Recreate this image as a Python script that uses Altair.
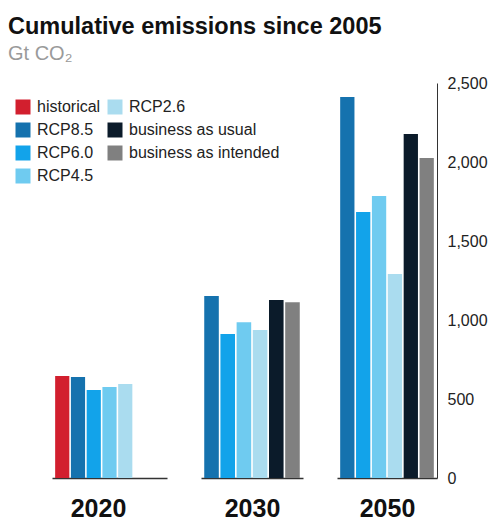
import altair as alt
import pandas as pd

# Cumulative CO2 emissions since 2005 (Gt CO2), by scenario and horizon year
series = ["historical", "RCP8.5", "RCP6.0", "RCP4.5", "RCP2.6",
          "business as usual", "business as intended"]
colors = ["#d21f2e", "#1572ae", "#12a3ea", "#6fcbf0", "#aadcef",
          "#0b1b2a", "#808080"]

series_2020 = ["historical", "RCP8.5", "RCP6.0", "RCP4.5", "RCP2.6"]
values_2020 = [645, 640, 557, 576, 595]

series_2030 = ["RCP8.5", "RCP6.0", "RCP4.5", "RCP2.6",
               "business as usual", "business as intended"]
values_2030 = [1152, 911, 985, 937, 1127, 1112]

series_2050 = ["RCP8.5", "RCP6.0", "RCP4.5", "RCP2.6",
               "business as usual", "business as intended"]
values_2050 = [2411, 1684, 1785, 1291, 2177, 2025]

y_ticks = [0, 500, 1000, 1500, 2000, 2500]

FONT = "Liberation Sans"

rows = []
for yr, ss, vv in [("2020", series_2020, values_2020),
                   ("2030", series_2030, values_2030),
                   ("2050", series_2050, values_2050)]:
    for s, v in zip(ss, vv):
        rows.append({"year": yr, "series": s, "value": v})
df = pd.DataFrame(rows)

color_enc = alt.Color(
    "series:N",
    scale=alt.Scale(domain=series, range=colors),
    legend=alt.Legend(
        title=None, orient="none", legendX=-37, legendY=16,
        direction="vertical", columns=2, symbolType="square",
        symbolSize=225, symbolStrokeWidth=0, labelFontSize=16,
        labelFont=FONT, labelColor="#222", labelOffset=6,
        rowPadding=7, columnPadding=6, padding=0,
    ),
)


def panel(year, domain, width, title_x=None, show_y=False):
    axis_kw = dict(labels=False, ticks=False, domain=True, domainColor="#333",
                   domainWidth=1.5, title=year, titleFontSize=25,
                   titleFontWeight="bold", titleFont=FONT, titleColor="#111",
                   titlePadding=18)
    if title_x is not None:
        axis_kw["titleX"] = title_x
    if show_y:
        y_axis = alt.Axis(orient="right", values=y_ticks, format=",d",
                          ticks=False, grid=False, domain=True,
                          domainColor="#333", labelFontSize=16,
                          labelFont=FONT, labelColor="#222",
                          labelPadding=10, title=None)
    else:
        y_axis = None
    return alt.Chart(df).transform_filter(
        alt.datum.year == year
    ).mark_bar().encode(
        x=alt.X("series:N",
                scale=alt.Scale(domain=domain, paddingInner=0.1,
                                paddingOuter=0.2),
                axis=alt.Axis(**axis_kw)),
        y=alt.Y("value:Q", scale=alt.Scale(domain=[0, 2500], nice=False),
                axis=y_axis),
        color=color_enc,
    ).properties(width=width, height=395)


chart = alt.hconcat(
    panel("2020", series, 115, title_x=46),
    panel("2030", series[1:], 102),
    panel("2050", series[1:], 100, show_y=True),
    spacing=34,
).resolve_scale(x="independent").properties(
    title=alt.TitleParams(
        text="Cumulative emissions since 2005",
        subtitle="Gt CO₂",
        anchor="start", frame="group", dx=-44,
        font=FONT, fontSize=23.5, fontWeight="bold", color="#111",
        subtitleFont=FONT, subtitleFontSize=20, subtitleColor="#9a9a9a",
        subtitlePadding=6, offset=11,
    ),
    padding={"left": 8, "top": 14, "right": 4, "bottom": 2},
).configure_view(stroke=None)

chart.save("out.html", embed_options={"renderer": "svg", "actions": False})
